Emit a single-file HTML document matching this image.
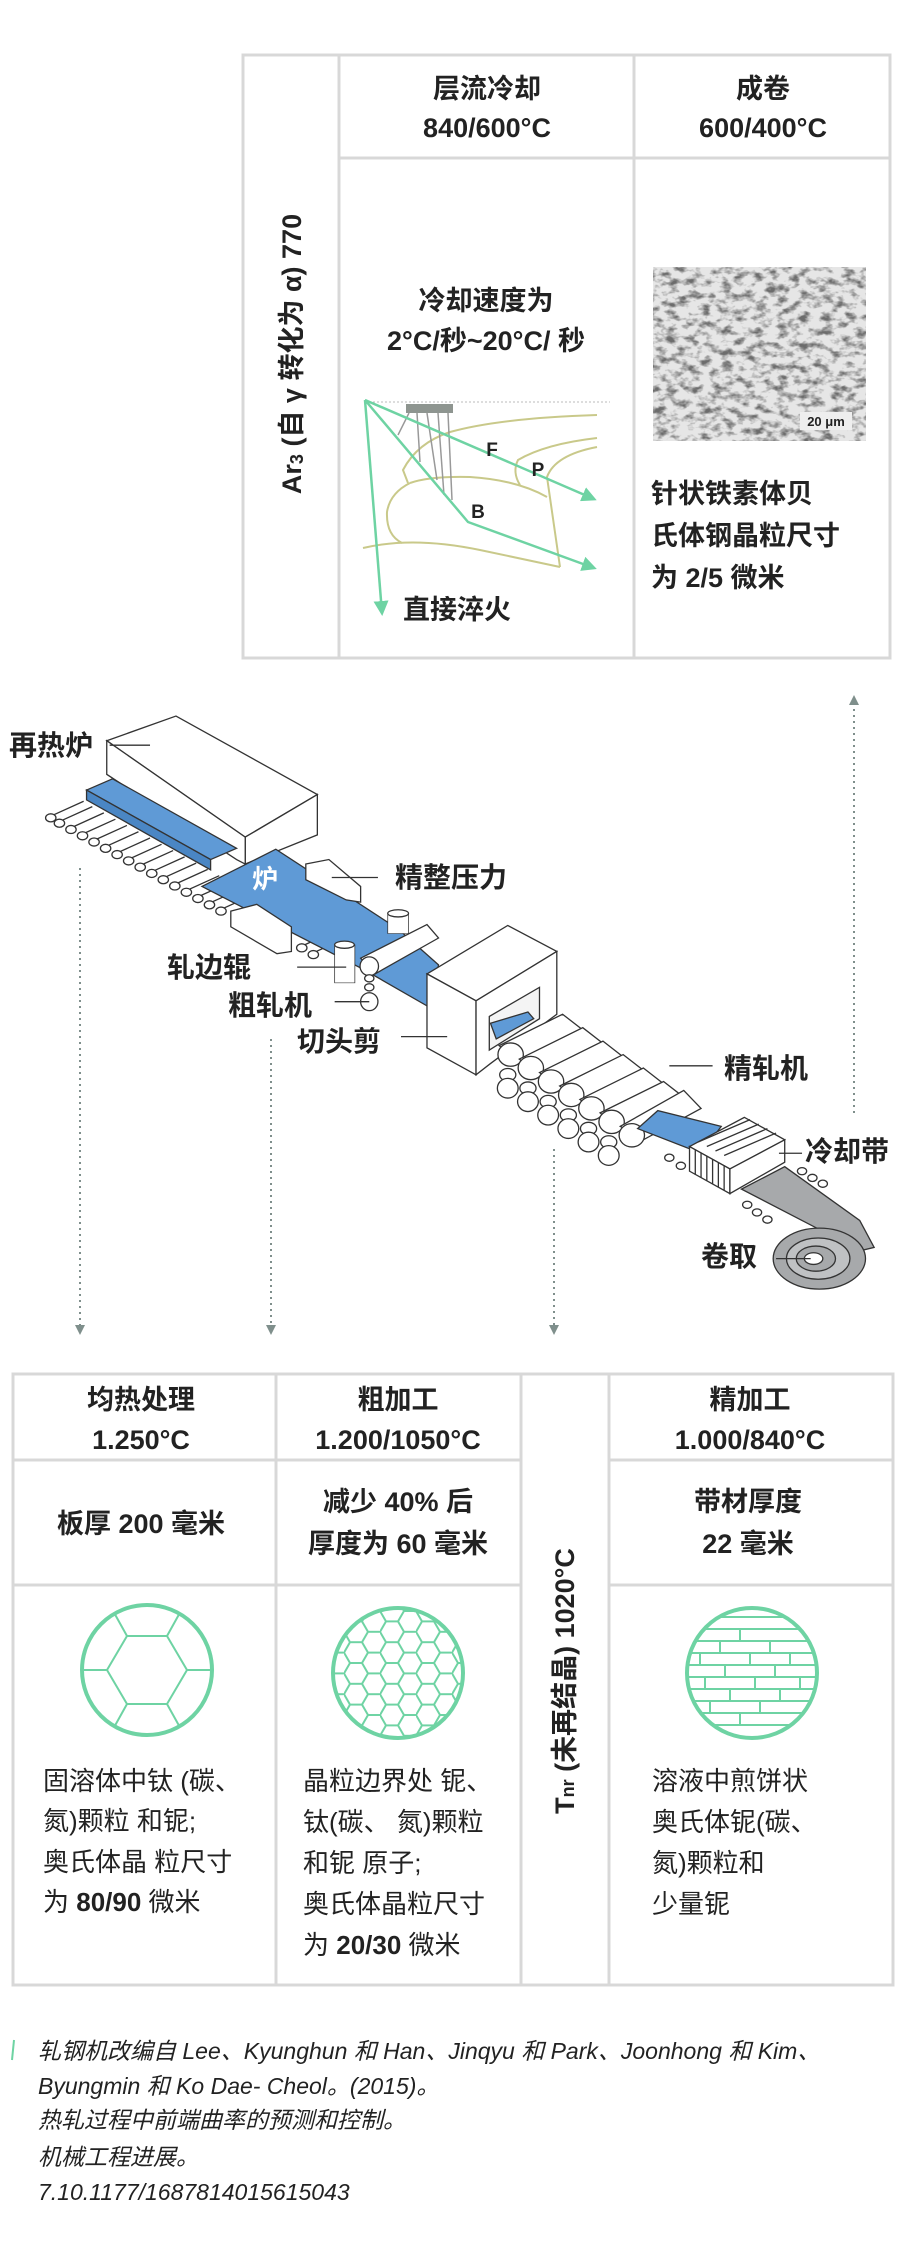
<!DOCTYPE html>
<html><head><meta charset="utf-8">
<style>
html,body{margin:0;padding:0;background:#fff;}
svg{display:block;}
text{font-family:"Liberation Sans","Noto Sans CJK SC",sans-serif;fill:#222;}
.h{font-weight:bold;font-size:27px;}
.b{font-size:26px;fill:#333;}
.l{font-weight:bold;font-size:28px;}
.c{font-style:italic;font-size:23px;fill:#555;}
.m path,.m line,.m ellipse,.m polygon,.m circle{vector-effect:non-scaling-stroke;}
</style></head><body>
<svg width="900" height="2250" viewBox="0 0 900 2250" xmlns="http://www.w3.org/2000/svg">
<defs>
<filter id="noise" x="0" y="0" width="100%" height="100%">
<feTurbulence type="fractalNoise" baseFrequency="0.09 0.14" numOctaves="3" seed="7"/>
<feColorMatrix type="matrix" values="0 0 0 0 0.15  0 0 0 0 0.15  0 0 0 0 0.15  -3.2 0 0 0 1.75"/>
</filter>
<clipPath id="c1"><circle cx="147" cy="1670" r="64"/></clipPath>
<clipPath id="c2"><circle cx="398" cy="1673" r="64"/></clipPath>
<clipPath id="c3"><circle cx="752" cy="1673" r="64"/></clipPath>
<pattern id="hex" width="36" height="20.8" patternUnits="userSpaceOnUse" x="380" y="1663">
<path d="M0 10.4 L6 0 L18 0 L24 10.4 L18 20.8 L6 20.8 Z M24 10.4 L36 10.4" fill="none" stroke="#6ed3a3" stroke-width="2"/>
</pattern>
<marker id="ga" viewBox="0 0 10 10" refX="8" refY="5" markerWidth="6" markerHeight="6" orient="auto"><path d="M0 0 L10 5 L0 10 Z" fill="#6ed3a3"/></marker>
<marker id="da" viewBox="0 0 10 10" refX="8" refY="5" markerWidth="5" markerHeight="5" orient="auto"><path d="M0 0 L10 5 L0 10 Z" fill="#7f8f8c"/></marker>
</defs>

<!-- TOP TABLE -->
<g fill="none" stroke="#d8d8d8" stroke-width="3">
<rect x="243" y="55" width="647" height="603"/>
<line x1="339" y1="55" x2="339" y2="658"/>
<line x1="634" y1="55" x2="634" y2="658"/>
<line x1="339" y1="158" x2="890" y2="158"/>
</g>
<text class="h" transform="translate(292,354) rotate(-90)" text-anchor="middle" dominant-baseline="central">Ar<tspan font-size="18" dy="5">3</tspan><tspan dy="-5"> (自 γ 转化为 α) 770</tspan></text>
<text class="h" x="487" y="98" text-anchor="middle">层流冷却</text>
<text class="h" x="487" y="137" text-anchor="middle">840/600°C</text>
<text class="h" x="763" y="98" text-anchor="middle">成卷</text>
<text class="h" x="763" y="137" text-anchor="middle">600/400°C</text>
<text class="h" x="486" y="310" text-anchor="middle">冷却速度为</text>
<text class="h" x="486" y="350" text-anchor="middle">2°C/秒~20°C/ 秒</text>
<!-- cooling diagram -->
<line x1="365" y1="402" x2="610" y2="402" stroke="#bbb" stroke-width="1" stroke-dasharray="2,2"/>
<g fill="none" stroke="#c9c98a" stroke-width="2">
<path d="M408 483 L403 470 Q417 443 450 432 Q500 418 597 415"/>
<path d="M410 483 Q430 476 470 477 Q517 480 547 497"/>
<path d="M597 438 Q545 444 518 460 Q512 472 520 485"/>
<path d="M597 447 Q555 455 547 477 L560 567"/>
<path d="M410 483 Q390 493 387 512 Q386 535 402 543"/>
<path d="M363 548 Q413 536 480 550 L560 567"/>
</g>
<rect x="406" y="404" width="47" height="9" fill="#8e9590"/>
<g stroke="#999" stroke-width="1.5">
<line x1="409" y1="413" x2="398" y2="435"/><line x1="417" y1="413" x2="420" y2="462"/>
<line x1="427" y1="413" x2="437" y2="480"/><line x1="438" y1="413" x2="444" y2="495"/><line x1="448" y1="413" x2="452" y2="500"/>
</g>
<g fill="none" stroke="#6ed3a3" stroke-width="2.5">
<path d="M365 400 L594 499" marker-end="url(#ga)"/>
<path d="M365 400 L468 522 L594 568" marker-end="url(#ga)"/>
<path d="M365 400 L382 613" marker-end="url(#ga)"/>
</g>
<text x="492" y="456" font-weight="bold" font-size="19" text-anchor="middle">F</text>
<text x="538" y="476" font-weight="bold" font-size="19" text-anchor="middle">P</text>
<text x="478" y="518" font-weight="bold" font-size="19" text-anchor="middle">B</text>
<text class="h" x="403" y="619">直接淬火</text>
<!-- micrograph -->
<rect x="653" y="267" width="213" height="174" fill="#e6e6e6"/>
<rect x="653" y="267" width="213" height="174" filter="url(#noise)"/>
<rect x="800" y="412" width="52" height="18" fill="#eee"/>
<text x="826" y="426" font-size="13" font-weight="bold" text-anchor="middle" fill="#333">20 μm</text>
<text class="h" x="651" y="503">针状铁素体贝</text>
<text class="h" x="651" y="545">氏体钢晶粒尺寸</text>
<text class="h" x="651" y="587">为 2/5 微米</text>

<!-- dotted arrows -->
<g stroke="#7f8f8c" stroke-width="2" stroke-dasharray="2,4" fill="none">
<line x1="80" y1="868" x2="80" y2="1333" marker-end="url(#da)"/>
<line x1="271" y1="1039" x2="271" y2="1333" marker-end="url(#da)"/>
<line x1="554" y1="1149" x2="554" y2="1333" marker-end="url(#da)"/>
<line x1="854" y1="1113" x2="854" y2="697" marker-end="url(#da)"/>
</g>

<!-- MILL -->
<g class="m" transform="translate(0,660) scale(0.577,0.4484)" stroke="#333" stroke-width="1.3" fill="#fff">
<g>
<path d="M85 350 l60 -35 M100 362 l60 -35 M120 376 l60 -35 M140 390 l60 -35 M160 404 l60 -35 M180 418 l60 -35 M200 432 l60 -35 M220 446 l60 -35 M240 460 l60 -35 M260 474 l60 -35 M280 488 l60 -35 M300 502 l60 -35 M320 516 l60 -35 M340 530 l60 -35 M360 544 l60 -35 M380 558 l60 -35 M520 640 l50 -30 M540 655 l50 -30"/>
<circle cx="88" cy="352" r="9"/><circle cx="103" cy="364" r="9"/><circle cx="123" cy="378" r="9"/><circle cx="143" cy="392" r="9"/><circle cx="163" cy="406" r="9"/><circle cx="183" cy="420" r="9"/><circle cx="203" cy="434" r="9"/><circle cx="223" cy="448" r="9"/><circle cx="243" cy="462" r="9"/><circle cx="263" cy="476" r="9"/><circle cx="283" cy="490" r="9"/><circle cx="303" cy="504" r="9"/><circle cx="323" cy="518" r="9"/><circle cx="343" cy="532" r="9"/><circle cx="363" cy="546" r="9"/><circle cx="383" cy="560" r="9"/><circle cx="523" cy="642" r="9"/><circle cx="543" cy="657" r="9"/>
</g>
<polygon points="185,180 305,125 550,300 425,395"/>
<polygon points="425,395 550,300 550,390 425,455"/>
<polygon points="185,180 425,395 425,455 410,445 185,255"/>
<polygon points="150,290 195,265 410,420 365,445" fill="#5f9ad6"/>
<polygon points="150,290 365,445 365,468 150,312" fill="#4a86c4"/>
<polygon points="350,505 478,422 690,600 760,680 745,775 630,690" fill="#5f9ad6"/>
<polygon points="530,455 570,445 625,505 625,540 600,535 530,490"/>
<polygon points="400,560 445,545 505,595 505,650 480,655 400,595"/>
<rect x="672" y="565" width="36" height="45"/><ellipse cx="690" cy="565" rx="18" ry="8"/>
<rect x="580" y="635" width="35" height="85"/><ellipse cx="597" cy="635" rx="17" ry="8"/>
<path d="M625 665 L740 590 L760 620 L650 700 Z"/>
<ellipse cx="640" cy="683" rx="16" ry="21"/>
<circle cx="640" cy="710" r="8"/><circle cx="640" cy="730" r="8"/><ellipse cx="640" cy="762" rx="15" ry="20"/>
<polygon points="740,700 880,592 965,650 825,760"/>
<polygon points="740,700 825,760 825,925 740,865"/>
<polygon points="825,760 965,650 965,790 850,900 825,925"/>
<polygon points="848,795 935,730 935,800 848,870" fill="#f4f4f4"/>
<polygon points="850,810 915,785 925,800 860,845" fill="#5f9ad6"/>
<g>
<path d="M865 860 L975 790 L1015 830 L905 900 Z"/><ellipse cx="885" cy="880" rx="22" ry="26"/><circle cx="880" cy="925" r="14"/><ellipse cx="880" cy="955" rx="18" ry="22"/>
<path d="M900 890 L1010 820 L1050 860 L940 930 Z"/><ellipse cx="920" cy="910" rx="22" ry="26"/><circle cx="915" cy="955" r="14"/><ellipse cx="915" cy="985" rx="18" ry="22"/>
<path d="M935 920 L1045 850 L1085 890 L975 960 Z"/><ellipse cx="955" cy="940" rx="22" ry="26"/><circle cx="950" cy="985" r="14"/><ellipse cx="950" cy="1015" rx="18" ry="22"/>
<path d="M970 950 L1080 880 L1120 920 L1010 990 Z"/><ellipse cx="990" cy="970" rx="22" ry="26"/><circle cx="985" cy="1015" r="14"/><ellipse cx="985" cy="1045" rx="18" ry="22"/>
<path d="M1005 980 L1115 910 L1155 950 L1045 1020 Z"/><ellipse cx="1025" cy="1000" rx="22" ry="26"/><circle cx="1020" cy="1045" r="14"/><ellipse cx="1020" cy="1075" rx="18" ry="22"/>
<path d="M1040 1010 L1150 940 L1190 980 L1080 1050 Z"/><ellipse cx="1060" cy="1030" rx="22" ry="26"/><circle cx="1055" cy="1075" r="14"/><ellipse cx="1055" cy="1105" rx="18" ry="22"/>
<path d="M1075 1040 L1185 960 L1215 1000 L1115 1070 Z"/><ellipse cx="1095" cy="1060" rx="22" ry="26"/>
</g>
<polygon points="1105,1045 1140,1005 1250,1040 1215,1100" fill="#5f9ad6"/>
<circle cx="1160" cy="1110" r="8"/><circle cx="1180" cy="1128" r="8"/>
<polygon points="1195,1085 1290,1020 1360,1070 1265,1135"/>
<polygon points="1195,1085 1265,1135 1265,1190 1195,1140"/>
<polygon points="1265,1135 1360,1070 1360,1120 1265,1190"/>
<path d="M1205 1092 L1205 1148 M1215 1099 L1215 1155 M1225 1106 L1225 1162 M1235 1113 L1235 1169 M1245 1120 L1245 1176 M1255 1127 L1255 1183 M1210 1075 L1300 1025 M1225 1085 L1315 1035 M1240 1095 L1330 1045 M1255 1105 L1345 1055"/>
<polygon points="1285,1180 1360,1130 1490,1250 1515,1310 1450,1330 1420,1270" fill="#a7a9ab"/>
<ellipse cx="1420" cy="1335" rx="80" ry="68" fill="#a7a9ab"/>
<ellipse cx="1418" cy="1335" rx="55" ry="46" fill="#bfc1c3"/>
<ellipse cx="1414" cy="1335" rx="34" ry="28" fill="#a7a9ab"/>
<ellipse cx="1410" cy="1335" rx="16" ry="13" fill="#fff"/>
<circle cx="1295" cy="1215" r="8"/><circle cx="1312" cy="1232" r="8"/><circle cx="1330" cy="1248" r="8"/>
<circle cx="1390" cy="1140" r="8"/><circle cx="1408" cy="1155" r="8"/><circle cx="1426" cy="1168" r="8"/>
<g fill="none" stroke="#333">
<line x1="190" y1="190" x2="260" y2="190"/><line x1="575" y1="485" x2="655" y2="485"/>
<line x1="515" y1="685" x2="600" y2="685"/><line x1="580" y1="762" x2="640" y2="762"/>
<line x1="695" y1="840" x2="775" y2="840"/><line x1="1160" y1="905" x2="1235" y2="905"/>
<line x1="1350" y1="1100" x2="1390" y2="1100"/><line x1="1345" y1="1335" x2="1405" y2="1335"/>
</g>
</g>
<text class="l" x="9" y="755">再热炉</text>
<text x="265" y="888" font-weight="bold" font-size="26" style="fill:#fff" text-anchor="middle">炉</text>
<text class="l" x="395" y="887">精整压力</text>
<text class="l" x="167" y="977">轧边辊</text>
<text class="l" x="228" y="1015">粗轧机</text>
<text class="l" x="297" y="1051">切头剪</text>
<text class="l" x="724" y="1078">精轧机</text>
<text class="l" x="805" y="1161">冷却带</text>
<text class="l" x="701" y="1266">卷取</text>

<!-- BOTTOM TABLE -->
<g fill="none" stroke="#d8d8d8" stroke-width="3">
<rect x="13" y="1374" width="880" height="611"/>
<line x1="276" y1="1374" x2="276" y2="1985"/>
<line x1="521" y1="1374" x2="521" y2="1985"/>
<line x1="609" y1="1374" x2="609" y2="1985"/>
<line x1="13" y1="1460" x2="521" y2="1460"/><line x1="609" y1="1460" x2="893" y2="1460"/>
<line x1="13" y1="1585" x2="521" y2="1585"/><line x1="609" y1="1585" x2="893" y2="1585"/>
</g>
<text class="h" x="141" y="1409" text-anchor="middle">均热处理</text>
<text class="h" x="141" y="1449" text-anchor="middle">1.250°C</text>
<text class="h" x="398" y="1409" text-anchor="middle">粗加工</text>
<text class="h" x="398" y="1449" text-anchor="middle">1.200/1050°C</text>
<text class="h" x="750" y="1409" text-anchor="middle">精加工</text>
<text class="h" x="750" y="1449" text-anchor="middle">1.000/840°C</text>
<text class="h" x="141" y="1533" text-anchor="middle">板厚 200 毫米</text>
<text class="h" x="398" y="1511" text-anchor="middle">减少 40% 后</text>
<text class="h" x="398" y="1553" text-anchor="middle">厚度为 60 毫米</text>
<text class="h" x="748" y="1511" text-anchor="middle">带材厚度</text>
<text class="h" x="748" y="1553" text-anchor="middle">22 毫米</text>
<text class="h" transform="translate(565,1681) rotate(-90)" text-anchor="middle" dominant-baseline="central">T<tspan font-size="18" dy="3">nr</tspan><tspan dy="-3"> (未再结晶) 1020°C</tspan></text>
<g fill="none" stroke="#6ed3a3" stroke-width="2">
<g clip-path="url(#c1)">
<path d="M127 1636 L167 1636 L187 1670 L167 1704 L127 1704 L107 1670 Z M127 1636 L107 1600 M167 1636 L187 1600 M187 1670 L220 1670 M107 1670 L70 1670 M127 1704 L107 1740 M167 1704 L187 1740"/>
</g>
<rect x="330" y="1605" width="140" height="140" fill="url(#hex)" stroke="none" clip-path="url(#c2)"/>
<g clip-path="url(#c3)">
<path d="M680 1617 H830 M680 1629 H830 M680 1641 H830 M680 1653 H830 M680 1665 H830 M680 1677 H830 M680 1689 H830 M680 1701 H830 M680 1713 H830 M680 1725 H830 M700 1617 v12 M740 1629 v12 M720 1641 v12 M770 1641 v12 M700 1653 v12 M750 1653 v12 M790 1653 v12 M725 1665 v12 M775 1665 v12 M705 1677 v12 M755 1677 v12 M800 1677 v12 M730 1689 v12 M780 1689 v12 M710 1701 v12 M760 1701 v12 M740 1713 v12"/>
</g>
</g>
<g fill="none" stroke="#6ed3a3" stroke-width="4">
<circle cx="147" cy="1670" r="65"/><circle cx="398" cy="1673" r="65"/><circle cx="752" cy="1673" r="65"/>
</g>
<g class="b">
<text x="43" y="1790">固溶体中钛 (碳、</text>
<text x="43" y="1830">氮)颗粒 和铌;</text>
<text x="43" y="1871">奥氏体晶 粒尺寸</text>
<text x="43" y="1911">为 <tspan font-weight="bold" fill="#222">80/90</tspan> 微米</text>
<text x="303" y="1790">晶粒边界处 铌、</text>
<text x="303" y="1831">钛(碳、 氮)颗粒</text>
<text x="303" y="1872">和铌 原子;</text>
<text x="303" y="1913">奥氏体晶粒尺寸</text>
<text x="303" y="1954">为 <tspan font-weight="bold" fill="#222">20/30</tspan> 微米</text>
<text x="652" y="1790">溶液中煎饼状</text>
<text x="652" y="1831">奥氏体铌(碳、</text>
<text x="652" y="1872">氮)颗粒和</text>
<text x="652" y="1913">少量铌</text>
</g>
<line x1="14" y1="2040" x2="12" y2="2060" stroke="#6ed3a3" stroke-width="2"/>
<g class="c">
<text x="38" y="2059">轧钢机改编自 Lee、Kyunghun 和 Han、Jinqyu 和 Park、Joonhong 和 Kim、</text>
<text x="38" y="2094">Byungmin 和 Ko Dae- Cheol。(2015)。</text>
<text x="38" y="2128">热轧过程中前端曲率的预测和控制。</text>
<text x="38" y="2165">机械工程进展。</text>
<text x="38" y="2200">7.10.1177/1687814015615043</text>
</g>
</svg>
</body></html>
